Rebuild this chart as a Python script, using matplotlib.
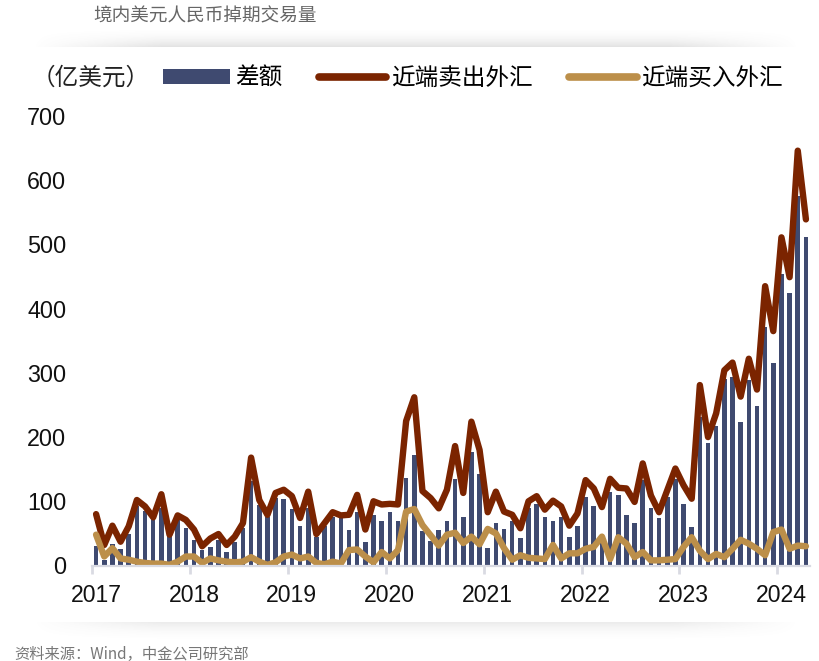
"""Onshore USD/CNY swap volume: monthly bars and near-leg lines."""

import matplotlib
matplotlib.use("Agg")
import matplotlib.pyplot as plt
import numpy as np
from matplotlib.lines import Line2D
from matplotlib.patches import Patch

plt.rcParams["font.family"] = ["Liberation Sans", "Noto Sans CJK SC"]

W, H = 819, 661
NAVY = "#3F4A70"
DARK_RED = "#7B2400"
TAN = "#BC8F4A"

YEARS = ["2017", "2018", "2019", "2020", "2021", "2022", "2023", "2024"]
Y_TICKS = [0, 100, 200, 300, 400, 500, 600, 700]

# monthly, 2017-01 to 2024-04 (USD 100m)
diff = [31, 8, 33, 26, 49, 92, 85, 74, 89, 48, 71, 58,
        39, 24, 29, 39, 21, 36, 59, 131, 94, 76, 105, 104,
        88, 62, 89, 45, 61, 75, 74, 56, 84, 36, 79, 70,
        83, 69, 137, 172, 53, 38, 55, 69, 135, 75, 177, 142,
        28, 66, 57, 70, 43, 89, 96, 75, 69, 76, 44, 61,
        107, 92, 38, 114, 110, 78, 66, 133, 89, 74, 107, 135,
        95, 60, 231, 190, 218, 291, 294, 224, 289, 248, 372, 316,
        454, 424, 575, 511]
sell = [80, 32, 62, 37, 61, 102, 92, 75, 111, 48, 78, 71,
        56, 30, 42, 49, 32, 45, 66, 168, 102, 79, 113, 118,
        108, 74, 115, 49, 66, 83, 78, 79, 110, 56, 100, 95,
        96, 95, 225, 262, 116, 105, 89, 118, 186, 113, 224, 180,
        83, 115, 84, 79, 58, 100, 108, 87, 101, 92, 62, 81,
        133, 120, 91, 135, 121, 120, 99, 159, 109, 83, 117, 151,
        125, 104, 281, 200, 237, 304, 316, 263, 322, 274, 435, 365,
        511, 449, 646, 539]
buy = [48, 14, 27, 11, 9, 6, 4, 3, 3, 1, 6, 14,
       14, 4, 11, 8, 6, 5, 6, 13, 6, 1, 5, 14,
       17, 11, 14, 4, 2, 6, 3, 24, 25, 14, 5, 21,
       11, 24, 84, 88, 63, 47, 31, 48, 51, 35, 45, 33,
       57, 50, 27, 9, 16, 12, 11, 10, 32, 11, 19, 19,
       26, 29, 45, 10, 44, 34, 13, 21, 8, 8, 9, 10,
       29, 44, 23, 10, 18, 13, 26, 40, 34, 26, 16, 52,
       56, 26, 31, 30]


def add_shadow(fig, top, bottom, left, right, fade_down, strength):
    """Soft grey band that fades vertically and towards both ends."""
    band = fig.add_axes([left / W, 1 - bottom / H, (right - left) / W, (bottom - top) / H],
                        zorder=0)
    nx, ny = 300, 60
    v = np.linspace(1, 0, ny) ** 2 if fade_down else np.linspace(0, 1, ny) ** 2
    u = np.clip(np.minimum(np.linspace(0, 1, nx), np.linspace(1, 0, nx)) * 6, 0, 1)
    rgba = np.zeros((ny, nx, 4))
    rgba[..., :3] = 0.45
    rgba[..., 3] = strength * np.outer(v, u)
    band.imshow(rgba, aspect="auto", interpolation="bilinear")
    band.axis("off")


fig = plt.figure(figsize=(W / 100, H / 100), dpi=100)
add_shadow(fig, 28, 47.5, 32, 800, fade_down=False, strength=0.2)
add_shadow(fig, 622, 642, 32, 800, fade_down=True, strength=0.14)

ax = fig.add_axes([92 / W, 1 - 565.5 / H, 718 / W, 449.5 / H], zorder=2)
ax.patch.set_alpha(0)

x = np.arange(len(diff))
ax.bar(x, diff, width=0.56, color=NAVY, label="差额")
ax.plot(x, sell, color=DARK_RED, linewidth=4.6, solid_joinstyle="round",
        solid_capstyle="round", label="近端卖出外汇")
ax.plot(x, buy, color=TAN, linewidth=4.6, solid_joinstyle="round",
        solid_capstyle="round", label="近端买入外汇")

ax.set_xlim(-0.5, len(diff) - 0.5)
ax.set_ylim(0, 700)
ax.set_yticks(Y_TICKS)
ax.tick_params(axis="y", length=0, labelsize=16.8, pad=18.5, labelcolor="#111111")

# year ticks sit on the category edges, labels on January
ax.set_xticks(np.arange(len(YEARS)) * 12 - 0.5)
ax.set_xticklabels([])
ax.set_xticks(np.arange(len(YEARS)) * 12, labels=YEARS, minor=True)
ax.tick_params(axis="x", which="major", length=6, width=2, color="#D9DAE2")
ax.tick_params(axis="x", which="minor", length=0, labelsize=16.6, pad=13.5, labelcolor="#111111")

for side in ["top", "right", "left"]:
    ax.spines[side].set_visible(False)
ax.spines["bottom"].set_color("#D9DAE2")
ax.spines["bottom"].set_linewidth(1.6)

handles = [
    Patch(facecolor=NAVY, label="差额"),
    Line2D([], [], color=DARK_RED, linewidth=5.5, solid_capstyle="round", label="近端卖出外汇"),
    Line2D([], [], color=TAN, linewidth=5.5, solid_capstyle="round", label="近端买入外汇"),
]
fig.legend(handles=handles, ncol=3, frameon=False, loc="center left",
           bbox_to_anchor=(163 / W, 1 - 78 / H), prop={"family": "Noto Sans CJK SC", "size": 17},
           handlelength=2.85, handleheight=0.6, handletextpad=0.2, columnspacing=1.55,
           borderpad=0, borderaxespad=0)

fig.text(91 / W, 1 - 78 / H, "（亿美元）", family="Noto Sans CJK SC", fontsize=17,
         ha="center", va="center", color="#222222")
fig.text(93 / W, 1 - 16 / H, "境内美元人民币掉期交易量", family="Noto Sans CJK SC",
         fontsize=13.4, ha="left", va="center", color="#666666")
fig.text(14 / W, 1 - 654 / H, "资料来源：Wind，中金公司研究部", family="Noto Sans CJK SC",
         fontsize=11, ha="left", va="center", color="#777777")

fig.savefig("out.png", dpi=100)
